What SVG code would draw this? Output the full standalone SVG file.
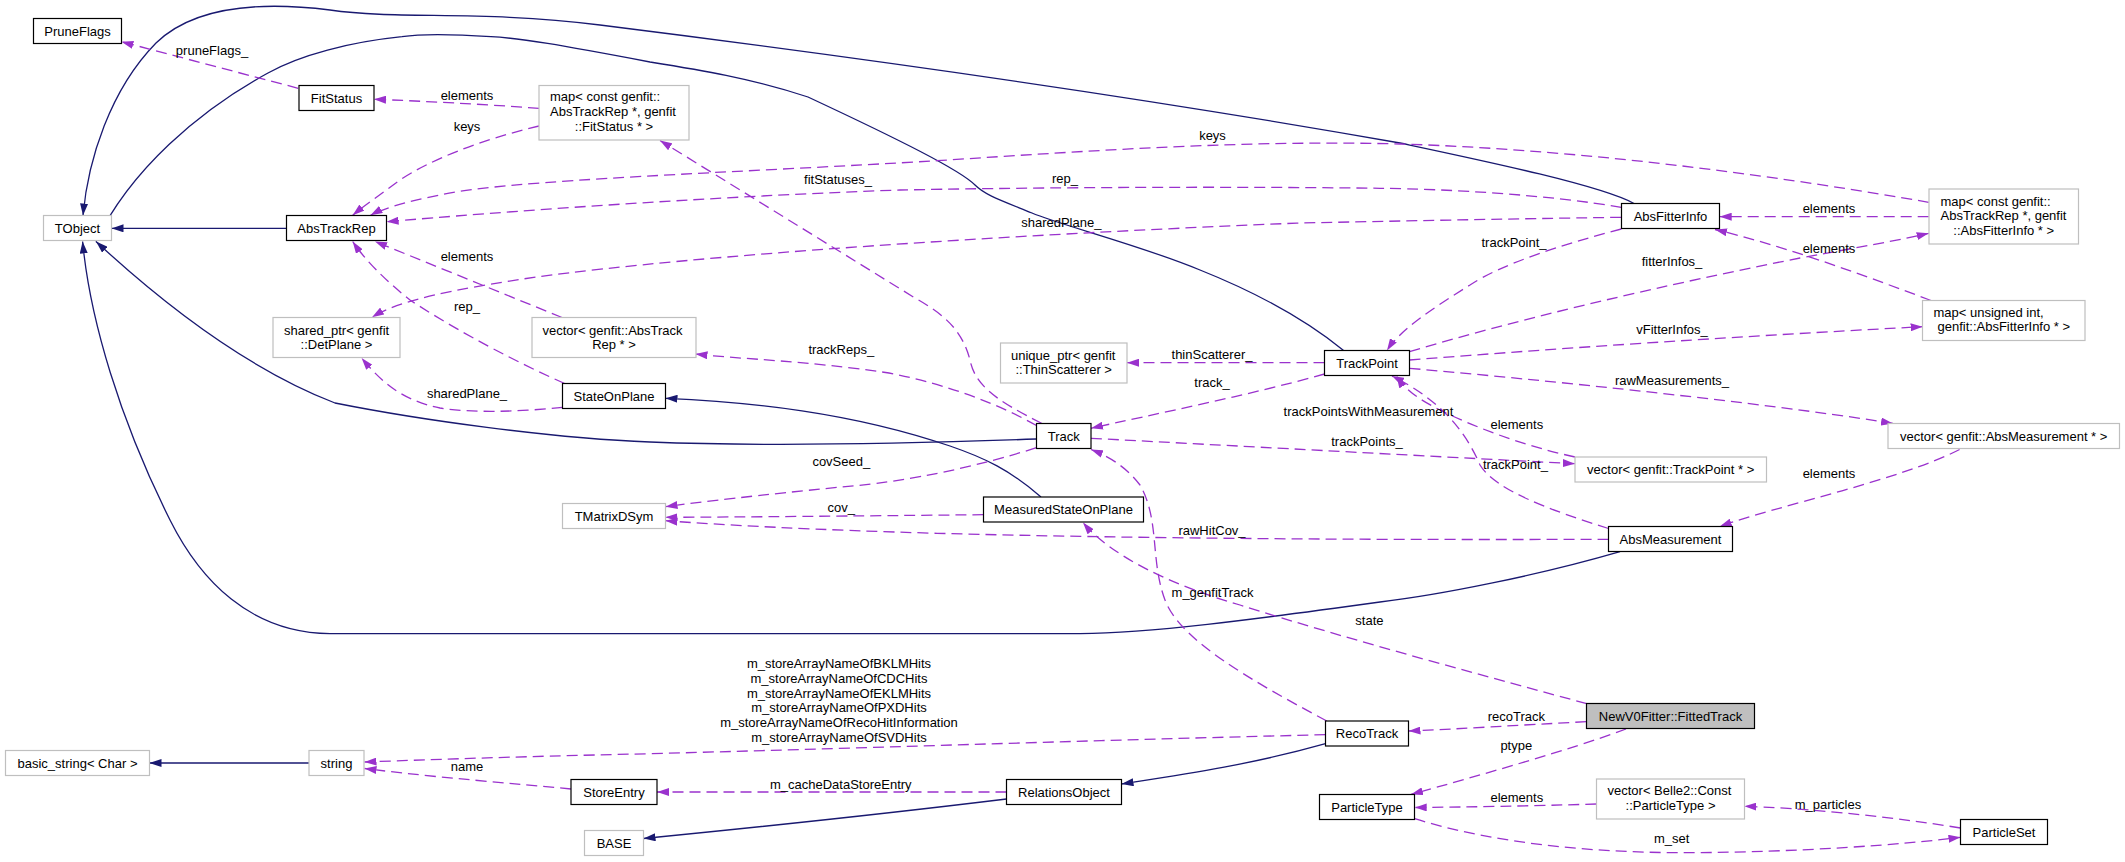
<svg xmlns="http://www.w3.org/2000/svg" width="2125" height="862" viewBox="0 0 2125 862">
<style>
text{font-family:"Liberation Sans",Arial,sans-serif;font-size:13px;fill:#000}
.n rect{fill:#fff;stroke:#000;stroke-width:1.2}
.g rect{fill:#fff;stroke:#bfbfbf;stroke-width:1.2}
.c{text-anchor:middle}
.s{fill:none;stroke:#191970;stroke-width:1.3}
.d{fill:none;stroke:#9a32cd;stroke-width:1.3;stroke-dasharray:11,6}
.lb{text-anchor:middle}
</style>
<defs>
<marker id="ab" viewBox="0 0 12 8" refX="12" refY="4" markerWidth="12" markerHeight="8" orient="auto" markerUnits="userSpaceOnUse"><path d="M0,0 L12,4 L0,8 z" fill="#191970"/></marker>
<marker id="ap" viewBox="0 0 12 8" refX="12" refY="4" markerWidth="12" markerHeight="8" orient="auto" markerUnits="userSpaceOnUse"><path d="M0,0 L12,4 L0,8 z" fill="#9a32cd"/></marker>
</defs>
<rect width="2125" height="862" fill="#fff"/>
<g id="connectors">
<g marker-end="url(#ab)">
<path class="s" d="M286.5,228.3 L111.5,228.3"/>
<path class="s" d="M1634,203.5 C1600,185 1480,160 1400,143 C1100,90 800,50 600,25 C480,10 400,20 330,10 C250,0 190,10 156,43 C110,90 88,160 83,215.5"/>
<path class="s" d="M1343.6,350.5 C1300,315 1250,290 1200,270 C1140,245 1060,225 1032,213 C1000,200 985,195 975,185 C960,170 900,140 808,97 C750,78 700,70 650,62 C560,45 520,38 491,36.7 C450,34 420,34 402,36.7 C350,42 300,55 268,73 C200,110 130,170 96,241.5"/>
<path class="s" d="M1036.5,439 C900,444 750,446 650,442 C550,438 420,420 335,403 C250,370 170,310 96,241.5"/>
<path class="s" d="M1620,551.7 C1540,575 1440,595 1380,602 C1250,620 1150,633 1080,633.7 L330,633.7 C250,633 200,580 170,520 C120,420 90,320 82.6,241.5"/>
<path class="s" d="M1041,497 C1010,470 985,458 950,446 C850,412 750,402 665.5,398.3"/>
<path class="s" d="M1325.5,743.7 C1250,765 1180,775 1121.5,784"/>
<path class="s" d="M1006.5,799 C900,812 750,828 643.5,838.5"/>
<path class="s" d="M309,763 L149.5,763"/>
</g>
<g marker-end="url(#ap)">
<path class="d" d="M298.2,88.3 L121.4,41.7"/>
<path class="d" d="M539,108.3 C480,104 420,101 374,99.3"/>
<path class="d" d="M539,126 C480,140 430,160 400,180 C380,195 365,205 352.7,215.3"/>
<path class="d" d="M1928.7,202.3 C1800,180 1600,150 1400,144 C1250,140 1100,150 937,160.7 C750,172 500,180 440,195 C400,203 380,210 370.5,215.3"/>
<path class="d" d="M1621.3,207.3 C1550,195 1450,189 1380,188.3 C1200,186 1000,188 900,190 C700,197 500,212 386.6,221.7"/>
<path class="d" d="M1042,423.5 C995,400 975,385 970,360 C962,330 945,315 915,298 L660,140.5"/>
<path class="d" d="M1621.3,217.3 C1500,219 1400,221 1300,223 C1000,235 700,255 536,277 C450,290 400,300 372,317.3"/>
<path class="d" d="M562,317.5 L375,241.5"/>
<path class="d" d="M564.7,383.5 C500,355 440,320 410,300 C385,280 365,260 352.7,241.5"/>
<path class="d" d="M562.5,407.3 C520,412 470,413 440,408 C400,400 380,380 361.6,358"/>
<path class="d" d="M1036.5,425.5 C1000,405 950,385 889,373 C800,360 750,360 695.5,354"/>
<path class="d" d="M1324.5,362.7 L1127,362.7"/>
<path class="d" d="M1324.5,374 C1250,395 1150,415 1091,428.3"/>
<path class="d" d="M1091,438.3 C1200,444 1350,452 1574.8,463.7"/>
<path class="d" d="M1575,457 C1520,445 1470,425 1440,410 C1420,400 1405,390 1396.6,376"/>
<path class="d" d="M1608.5,528.5 C1550,510 1495,490 1480,465 C1465,430 1440,400 1392,376"/>
<path class="d" d="M1621.3,229 C1560,245 1500,265 1470,285 C1430,310 1400,330 1387,350.5"/>
<path class="d" d="M1409.5,351.7 C1550,310 1700,278 1800,258 C1860,247 1900,240 1928.7,233.3"/>
<path class="d" d="M1928.7,216.7 L1719.7,216.7"/>
<path class="d" d="M1931,300.5 C1850,270 1780,245 1715,229.5"/>
<path class="d" d="M1409.5,360 C1600,345 1800,333 1922.6,326.7"/>
<path class="d" d="M1409.5,368.3 C1600,385 1800,408 1893,423.5"/>
<path class="d" d="M1959.6,449.5 C1900,480 1780,505 1719.7,526.5"/>
<path class="d" d="M1036.5,447.7 C950,475 880,484 841,487 C760,495 700,502 665.5,506.7"/>
<path class="d" d="M983.5,514.7 C850,516 750,517 665.5,517.3"/>
<path class="d" d="M1608.5,539.3 C1400,540 1150,539 937,533.3 C820,530 720,525 665.5,520.7"/>
<path class="d" d="M1326.8,721 C1250,680 1180,640 1165,600 C1150,560 1160,520 1140,485 C1125,465 1105,455 1091,449.5"/>
<path class="d" d="M1586.7,703.7 C1500,680 1350,640 1240,605 C1170,585 1110,555 1083,522.5"/>
<path class="d" d="M1325.5,734.7 C1100,740 900,747 650,753.7 C500,757 420,760 364.5,762"/>
<path class="d" d="M571,789 C510,783 440,778 364.5,768.5"/>
<path class="d" d="M1006.5,792 L657,792"/>
<path class="d" d="M1586.5,721.7 C1520,725 1460,729 1408.5,731"/>
<path class="d" d="M1626,729 C1570,750 1480,775 1411,794.5"/>
<path class="d" d="M1596.5,804 C1530,806 1470,807 1414.7,807.5"/>
<path class="d" d="M1960.5,828 C1880,815 1800,808 1744.4,806.3"/>
<path class="d" d="M1414.7,818.7 C1500,845 1600,853 1690,852.7 C1800,852 1900,845 1960.5,837.3"/>
</g>
<g class="lb">
<text x="212" y="54.5">pruneFlags_</text>
<text x="467" y="99.5">elements</text>
<text x="467" y="131">keys</text>
<text x="838" y="183.5">fitStatuses_</text>
<text x="1212.5" y="139.5">keys</text>
<text x="1065" y="182.8">rep_</text>
<text x="1061.3" y="227.2">sharedPlane_</text>
<text x="467" y="260.5">elements</text>
<text x="467" y="310.5">rep_</text>
<text x="467" y="397.8">sharedPlane_</text>
<text x="841.3" y="353.8">trackReps_</text>
<text x="1212" y="358.5">thinScatterer_</text>
<text x="1212" y="387.2">track_</text>
<text x="1368.5" y="416.2">trackPointsWithMeasurement</text>
<text x="1367" y="445.8">trackPoints_</text>
<text x="841.3" y="466.2">covSeed_</text>
<text x="841.3" y="512.2">cov_</text>
<text x="1212" y="535.2">rawHitCov_</text>
<text x="1212.5" y="596.8">m_genfitTrack</text>
<text x="1369.4" y="624.8">state</text>
<text x="1829" y="212.8">elements</text>
<text x="1514" y="247.2">trackPoint_</text>
<text x="1829" y="252.8">elements</text>
<text x="1672" y="265.5">fitterInfos_</text>
<text x="1672" y="333.8">vFitterInfos_</text>
<text x="1672" y="384.5">rawMeasurements_</text>
<text x="1516.8" y="428.5">elements</text>
<text x="1515.4" y="468.5">trackPoint_</text>
<text x="1829" y="477.8">elements</text>
<text x="839" y="668.2">m_storeArrayNameOfBKLMHits</text>
<text x="839" y="682.9">m_storeArrayNameOfCDCHits</text>
<text x="839" y="697.6">m_storeArrayNameOfEKLMHits</text>
<text x="839" y="712.3">m_storeArrayNameOfPXDHits</text>
<text x="839" y="727">m_storeArrayNameOfRecoHitInformation</text>
<text x="839" y="741.7">m_storeArrayNameOfSVDHits</text>
<text x="467" y="771.2">name</text>
<text x="840.8" y="788.5">m_cacheDataStoreEntry</text>
<text x="1516.3" y="720.5">recoTrack</text>
<text x="1516.3" y="749.8">ptype</text>
<text x="1516.8" y="801.8">elements</text>
<text x="1828" y="808.5">m_particles</text>
<text x="1671.7" y="843.2">m_set</text>
</g>
</g>
<g id="PruneFlags" class="n"><rect x="33.5" y="18.5" width="88" height="25"/><text class="c" x="77.5" y="35.6">PruneFlags</text></g>
<g id="FitStatus" class="n"><rect x="299" y="85.5" width="75" height="25"/><text class="c" x="336.5" y="102.6">FitStatus</text></g>
<g id="mapFitStatus" class="g"><rect x="539" y="85.5" width="150" height="54.5"/><text x="550" y="101.3">map&lt; const genfit::</text><text x="550" y="116.3">AbsTrackRep *, genfit</text><text class="c" x="614" y="130.6">::FitStatus * &gt;</text></g>
<g id="TObject" class="g"><rect x="43.5" y="215.5" width="68" height="25"/><text class="c" x="77.5" y="232.6">TObject</text></g>
<g id="AbsTrackRep" class="n"><rect x="286.5" y="215.5" width="100" height="25"/><text class="c" x="336.5" y="232.6">AbsTrackRep</text></g>
<g id="sharedPtrDetPlane" class="g"><rect x="273" y="317.5" width="127" height="40"/><text x="284" y="334.6">shared_ptr&lt; genfit</text><text class="c" x="336.5" y="348.6">::DetPlane &gt;</text></g>
<g id="vectorAbsTrackRep" class="g"><rect x="532" y="317.5" width="164" height="40"/><text x="542.5" y="334.6">vector&lt; genfit::AbsTrack</text><text class="c" x="614" y="348.6">Rep * &gt;</text></g>
<g id="StateOnPlane" class="n"><rect x="562.5" y="383.5" width="103" height="25"/><text class="c" x="614" y="400.6">StateOnPlane</text></g>
<g id="TMatrixDSym" class="g"><rect x="562.5" y="503.5" width="103" height="25"/><text class="c" x="614" y="520.6">TMatrixDSym</text></g>
<g id="uniquePtrThinScatterer" class="g"><rect x="1000.5" y="343" width="126.5" height="40"/><text x="1011" y="360">unique_ptr&lt; genfit</text><text class="c" x="1063.7" y="374">::ThinScatterer &gt;</text></g>
<g id="TrackPoint" class="n"><rect x="1324.5" y="350.5" width="85" height="25"/><text class="c" x="1367" y="367.6">TrackPoint</text></g>
<g id="Track" class="n"><rect x="1036.5" y="423.5" width="54.5" height="25"/><text class="c" x="1063.7" y="440.6">Track</text></g>
<g id="MeasuredStateOnPlane" class="n"><rect x="983.5" y="497" width="160" height="25"/><text class="c" x="1063.5" y="514.1">MeasuredStateOnPlane</text></g>
<g id="AbsFitterInfo" class="n"><rect x="1621.5" y="203.5" width="98" height="25"/><text class="c" x="1670.5" y="220.6">AbsFitterInfo</text></g>
<g id="mapAbsFitterInfo" class="g"><rect x="1929" y="189" width="149.5" height="55"/><text x="1940.5" y="205.6">map&lt; const genfit::</text><text x="1940.5" y="219.9">AbsTrackRep *, genfit</text><text class="c" x="2003.7" y="234.6">::AbsFitterInfo * &gt;</text></g>
<g id="mapUnsignedAbsFitterInfo" class="g"><rect x="1922.5" y="300.5" width="162.5" height="40"/><text x="1933.5" y="316.9">map&lt; unsigned int,</text><text class="c" x="2003.8" y="331.3">genfit::AbsFitterInfo * &gt;</text></g>
<g id="vectorAbsMeasurement" class="g"><rect x="1888" y="423.5" width="231.5" height="25"/><text class="c" x="2003.7" y="440.6">vector&lt; genfit::AbsMeasurement * &gt;</text></g>
<g id="vectorTrackPoint" class="g"><rect x="1575" y="457" width="191.5" height="25"/><text class="c" x="1670.7" y="474.1">vector&lt; genfit::TrackPoint * &gt;</text></g>
<g id="AbsMeasurement" class="n"><rect x="1608.5" y="526.5" width="124" height="25"/><text class="c" x="1670.5" y="543.6">AbsMeasurement</text></g>
<g id="basicString" class="g"><rect x="5.5" y="750.5" width="144" height="25"/><text class="c" x="77.5" y="767.6">basic_string&lt; Char &gt;</text></g>
<g id="string" class="g"><rect x="309" y="750.5" width="55" height="25"/><text class="c" x="336.5" y="767.6">string</text></g>
<g id="StoreEntry" class="n"><rect x="571" y="779.5" width="86" height="25"/><text class="c" x="614" y="796.6">StoreEntry</text></g>
<g id="BASE" class="g"><rect x="584.5" y="830.5" width="59" height="25"/><text class="c" x="614" y="847.6">BASE</text></g>
<g id="RelationsObject" class="n"><rect x="1006.5" y="779.5" width="115" height="25"/><text class="c" x="1064" y="796.6">RelationsObject</text></g>
<g id="RecoTrack" class="n"><rect x="1325.5" y="721" width="83" height="25"/><text class="c" x="1367" y="738.1">RecoTrack</text></g>
<g id="ParticleType" class="n"><rect x="1319.5" y="794.5" width="95" height="25"/><text class="c" x="1367" y="811.6">ParticleType</text></g>
<g id="FittedTrack" class="n"><rect x="1586.5" y="703.5" width="168" height="25" style="fill:#bfbfbf"/><text class="c" x="1670.5" y="720.6">NewV0Fitter::FittedTrack</text></g>
<g id="vectorParticleType" class="g"><rect x="1596.5" y="779" width="148" height="40"/><text x="1607.5" y="795.2">vector&lt; Belle2::Const</text><text class="c" x="1670.5" y="809.8">::ParticleType &gt;</text></g>
<g id="ParticleSet" class="n"><rect x="1960.5" y="819.5" width="87" height="25"/><text class="c" x="2004" y="836.6">ParticleSet</text></g>
</svg>
